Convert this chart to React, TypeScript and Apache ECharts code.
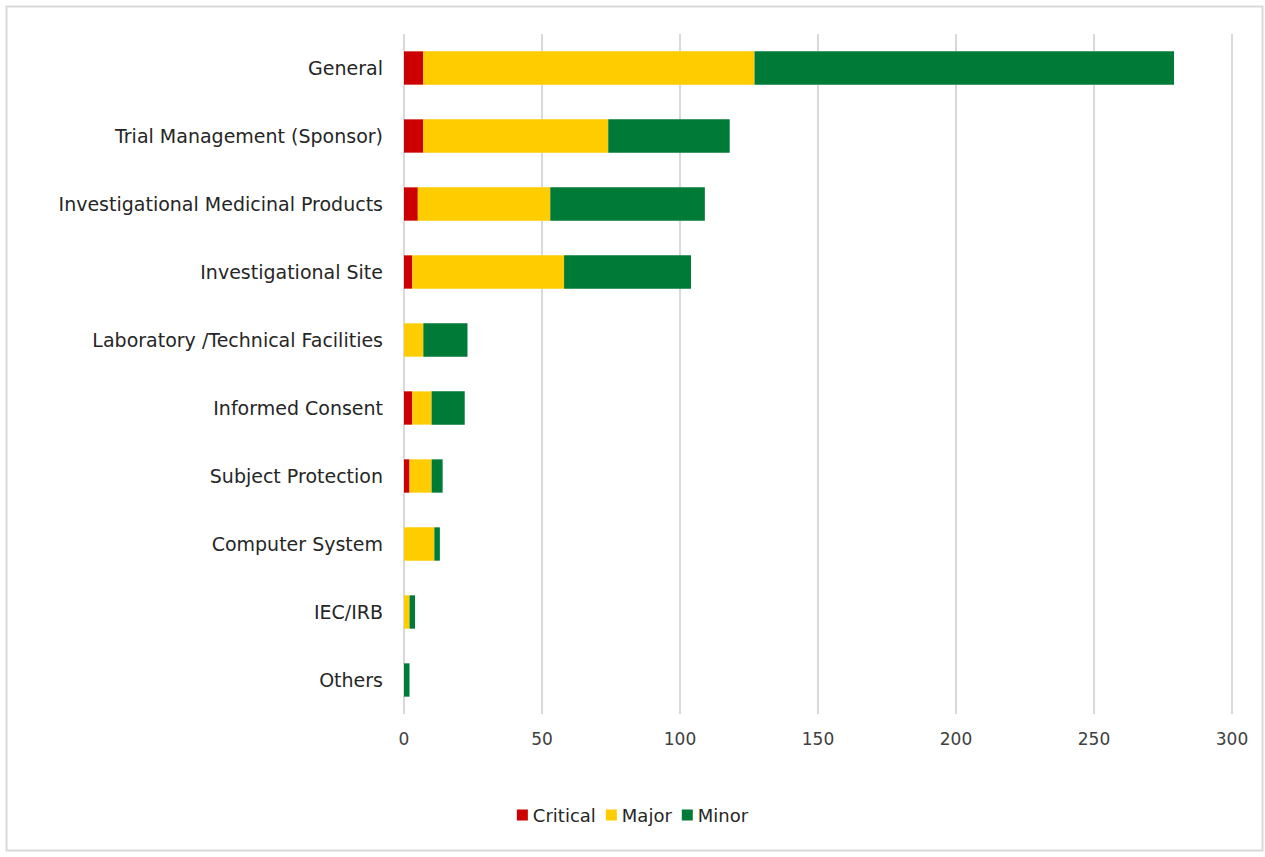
import React, { useEffect, useRef } from "react";
import * as echarts from "echarts";

const categories = [
  "General",
  "Trial Management (Sponsor)",
  "Investigational Medicinal Products",
  "Investigational Site",
  "Laboratory /Technical Facilities",
  "Informed Consent",
  "Subject Protection",
  "Computer System",
  "IEC/IRB",
  "Others",
];
const critical = [7, 7, 5, 3, 0, 3, 2, 0, 0, 0];
const major = [120, 67, 48, 55, 7, 7, 8, 11, 2, 0];
const minor = [152, 44, 56, 46, 16, 12, 4, 2, 2, 2];
const xTicks = { min: 0, max: 300, interval: 50 };

const FONT = "'DejaVu Sans', Verdana, sans-serif";

export default function App() {
  const ref = useRef<HTMLDivElement>(null);
  useEffect(() => {
    document.body.style.margin = "0";
    const chart = echarts.init(ref.current!, null, { renderer: "svg" });
    const mk = (name: string, data: number[], color: string) => ({
      name,
      type: "bar",
      stack: "total",
      data,
      barWidth: "49%",
      itemStyle: { color },
      emphasis: { disabled: true },
    });
    chart.setOption({
      animation: false,
      backgroundColor: "#ffffff",
      graphic: [
        {
          type: "rect",
          shape: { x: 6.5, y: 6.5, width: 1256, height: 844 },
          style: { fill: "none", stroke: "#d9d9d9", lineWidth: 2 },
          silent: true,
        },
      ],
      grid: { left: 404, right: 33, top: 34, bottom: 143, containLabel: false },
      xAxis: {
        type: "value",
        min: xTicks.min,
        max: xTicks.max,
        interval: xTicks.interval,
        axisLine: { show: false },
        axisTick: { show: false },
        axisLabel: { color: "#404040", fontFamily: FONT, fontSize: 17, margin: 16 },
        splitLine: { show: true, lineStyle: { color: "#d9d9d9", width: 2 } },
      },
      yAxis: {
        type: "category",
        data: categories,
        inverse: true,
        axisLine: { show: false },
        axisTick: { show: false },
        axisLabel: { color: "#262626", fontFamily: FONT, fontSize: 19, margin: 21 },
        splitLine: { show: false },
      },
      legend: {
        bottom: 28,
        left: "center",
        itemWidth: 11,
        itemHeight: 11,
        itemGap: 10,
        icon: "rect",
        textStyle: { color: "#262626", fontFamily: FONT, fontSize: 18 },
        data: ["Critical", "Major", "Minor"],
      },
      series: [
        mk("Critical", critical, "#CC0000"),
        mk("Major", major, "#FFCC00"),
        mk("Minor", minor, "#007A37"),
      ],
    });
    return () => chart.dispose();
  }, []);
  return <div ref={ref} style={{ width: 1265, height: 857 }} />;
}
